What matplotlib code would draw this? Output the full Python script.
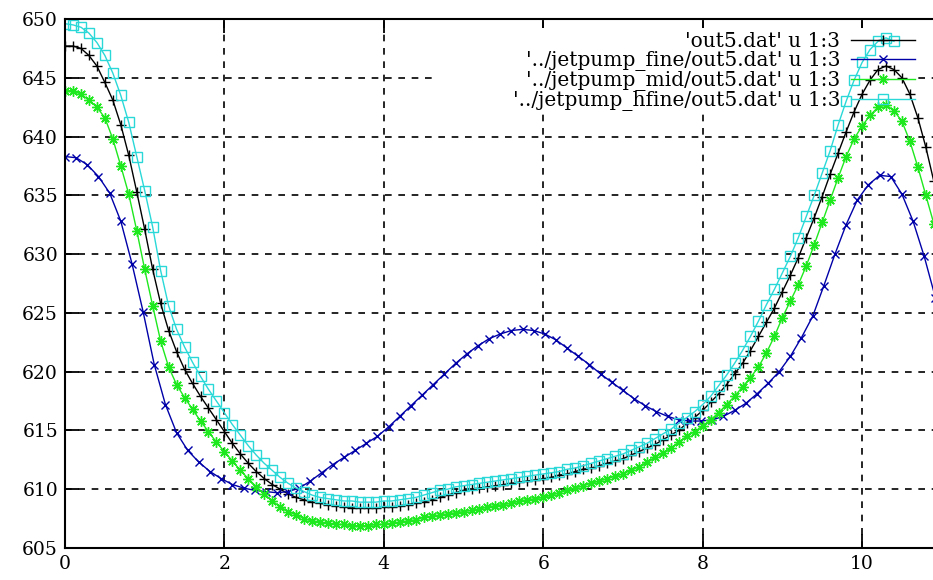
import numpy as np
import matplotlib
matplotlib.use("Agg")
import matplotlib.pyplot as plt
from matplotlib.patches import Rectangle

# column 3 of out5.dat for the four meshes
labels = [
    "'out5.dat' u 1:3",
    "'../jetpump_fine/out5.dat' u 1:3",
    "'../jetpump_mid/out5.dat' u 1:3",
    "'../jetpump_hfine/out5.dat' u 1:3",
]

y_base = [
    647.7, 647.7, 647.5, 646.9, 646.0, 644.6, 643.1, 641.0, 638.4, 635.3,
    632.1, 628.7, 625.8, 623.5, 621.7, 620.2, 619.0, 617.9, 616.9, 615.9,
    614.9, 613.9, 613.0, 612.2, 611.5, 610.9, 610.4, 610.0, 609.6, 609.3,
    609.1, 608.9, 608.8, 608.7, 608.6, 608.5, 608.4, 608.4, 608.4, 608.4,
    608.5, 608.5, 608.6, 608.7, 608.8, 608.9, 609.1, 609.3, 609.5, 609.7,
    609.9, 610.0, 610.1, 610.2, 610.3, 610.4, 610.5, 610.6, 610.7, 610.8,
    610.9, 611.0, 611.2, 611.3, 611.5, 611.7, 611.8, 612.0, 612.2, 612.4,
    612.6, 612.9, 613.2, 613.5, 613.8, 614.2, 614.6, 615.0, 615.6, 616.1,
    616.7, 617.4, 618.1, 618.9, 619.8, 620.7, 621.8, 623.0, 624.2, 625.4,
    626.8, 628.2, 629.7, 631.4, 633.1, 634.9, 636.8, 638.6, 640.4, 642.1,
    643.6, 644.8, 645.7, 646.0, 645.7, 645.0, 643.6, 641.6, 639.1, 636.2,
]

y_fine = [
    638.3, 638.2, 637.6, 636.6, 635.2, 632.8, 629.2, 625.1, 620.6, 617.2,
    614.8, 613.3, 612.3, 611.5, 610.9, 610.4, 610.1, 609.9, 609.8, 609.7,
    609.8, 610.1, 610.7, 611.4, 612.1, 612.7, 613.3, 613.9, 614.5, 615.3,
    616.2, 617.1, 618.0, 618.9, 619.8, 620.7, 621.5, 622.2, 622.8, 623.2,
    623.5, 623.6, 623.5, 623.2, 622.7, 622.0, 621.3, 620.6, 619.8, 619.1,
    618.4, 617.7, 617.1, 616.6, 616.2, 615.9, 615.8, 615.8, 615.9, 616.2,
    616.7, 617.3, 618.1, 619.0, 620.0, 621.3, 622.9, 624.7, 627.3, 630.0,
    632.5, 634.6, 635.9, 636.7, 636.6, 635.1, 632.8, 629.8, 626.3,
]

y_mid = [
    643.9, 643.9, 643.6, 643.1, 642.5, 641.6, 639.8, 637.5, 635.1, 632.0,
    628.7, 625.6, 622.6, 620.4, 618.9, 617.8, 616.8, 615.8, 614.9, 614.0,
    613.2, 612.4, 611.6, 610.9, 610.2, 609.6, 609.0, 608.5, 608.1, 607.8,
    607.5, 607.3, 607.2, 607.1, 607.0, 607.0, 606.9, 606.9, 606.9, 607.0,
    607.0, 607.1, 607.2, 607.3, 607.4, 607.6, 607.7, 607.8, 607.9, 608.0,
    608.1, 608.2, 608.3, 608.5, 608.6, 608.7, 608.8, 609.0, 609.1, 609.2,
    609.3, 609.5, 609.7, 609.9, 610.1, 610.3, 610.5, 610.7, 610.9, 611.1,
    611.3, 611.6, 611.9, 612.3, 612.7, 613.1, 613.5, 614.0, 614.5, 614.9,
    615.4, 615.9, 616.5, 617.2, 617.9, 618.7, 619.5, 620.4, 621.6, 623.0,
    624.6, 626.0, 627.4, 629.0, 630.8, 632.7, 634.6, 636.5, 638.3, 639.8,
    640.9, 641.8, 642.5, 642.7, 642.2, 641.3, 639.6, 637.4, 635.0, 632.6,
]

y_hfine = [
    649.6, 649.5, 649.3, 648.8, 648.0, 646.9, 645.4, 643.5, 641.2, 638.3,
    635.4, 632.3, 628.6, 625.6, 623.6, 622.1, 620.8, 619.6, 618.5, 617.5,
    616.5, 615.5, 614.6, 613.7, 612.9, 612.2, 611.6, 611.0, 610.5, 610.1,
    609.8, 609.5, 609.3, 609.2, 609.1, 609.0, 609.0, 608.9, 608.9, 608.9,
    609.0, 609.0, 609.1, 609.2, 609.3, 609.5, 609.7, 609.9, 610.0, 610.2,
    610.3, 610.4, 610.5, 610.6, 610.7, 610.8, 610.9, 611.0, 611.1, 611.2,
    611.3, 611.4, 611.5, 611.7, 611.8, 612.0, 612.2, 612.4, 612.6, 612.8,
    613.0, 613.3, 613.6, 613.9, 614.3, 614.7, 615.1, 615.6, 616.1, 616.6,
    617.2, 617.9, 618.8, 619.7, 620.7, 621.8, 623.0, 624.3, 625.7, 627.0,
    628.4, 629.8, 631.4, 633.2, 635.0, 636.9, 638.8, 641.0, 643.0, 644.8,
    646.3, 647.4, 648.1, 648.4, 648.1,
]

# mesh spacing along x (column 1)
dx_base, dx_fine, dx_mid, dx_hfine = 0.1, 0.14, 0.1, 0.1

series = [
    (dx_base, y_base, "black", "+", 7.5, "full"),
    (dx_fine, y_fine, "#0000a8", "x", 5.5, "full"),
    (dx_mid, y_mid, "#1ee81e", (8, 2, 0), 7.5, "full"),
    (dx_hfine, y_hfine, "#2ad8d8", "s", 7.5, "none"),
]

plt.rcParams["font.family"] = ["DejaVu Serif"]

fig = plt.figure(figsize=(9.33, 5.8), dpi=100)
ax = fig.add_axes([65 / 933, 32 / 580, 868 / 933, 529 / 580])

# gnuplot blanks the grid behind the key, but curves still pass over it
ax.add_patch(Rectangle((435 / 933, 1 - 113 / 580), 483 / 933, 85 / 580,
                       transform=fig.transFigure, facecolor="white",
                       edgecolor="none", zorder=1.8))

for (dx, y, col, mk, ms, fill), lab in zip(series, labels):
    x = np.arange(len(y)) * dx
    ax.plot(x, y, color=col, lw=1.0, marker=mk, ms=ms, mew=1.0,
            fillstyle=fill, label=lab, zorder=2)

ax.set_xlim(0, 10.89)
ax.set_ylim(605, 650)
ax.set_xticks(range(0, 11, 2))
ax.set_yticks(range(605, 651, 5))
ax.tick_params(direction="in", length=10, width=1.3, labelsize=13.5,
               top=True, right=False, pad=5)
ax.grid(True, color="black", linestyle=(0, (4, 4)), linewidth=1.2)
for side in ["left", "top", "bottom"]:
    ax.spines[side].set_linewidth(1.5)
ax.spines["right"].set_visible(False)

ax.legend(loc="upper right", bbox_to_anchor=(915 / 933, 1 - 32 / 580),
          bbox_transform=fig.transFigure, frameon=False, markerfirst=False,
          fontsize=14.5, handlelength=3.2, handletextpad=0.5,
          labelspacing=0.0, borderaxespad=0, borderpad=0)

fig.savefig("out.png", dpi=100)
